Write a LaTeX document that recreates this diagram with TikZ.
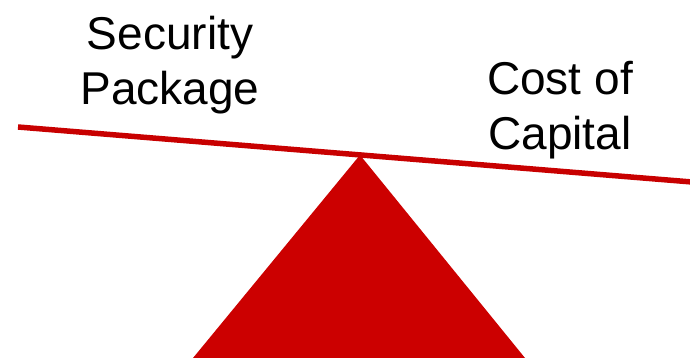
\documentclass[tikz,border=0pt]{standalone}
\usepackage{fontspec}
\setmainfont{Liberation Sans}
\usepackage{xcolor}
\definecolor{beamred}{RGB}{200,0,0}
\definecolor{baseRed}{RGB}{204,0,0}

\begin{document}
\begin{tikzpicture}[x=1pt,y=-1pt,
    label/.style={align=center,inner sep=0pt,anchor=base,font=\fontsize{46}{55}\selectfont}]
        \useasboundingbox (0,0) rectangle (690,358);
        \clip (0,0) rectangle (690,358);
        % fulcrum
        \coordinate (apex) at (360,155);
        \coordinate (bl) at (193,358);
        \coordinate (br) at (525,358);
        \fill[baseRed] (apex) -- (bl) -- (br) -- cycle;
        % beam
        \coordinate (beamL) at (18,127);
        \coordinate (beamR) at (692,182);
        \draw[beamred,line width=5.5pt] (beamL) -- (beamR);
        % labels (base = last line)
        \node[label] (sec) at (170,105) {Security\\Package};
        \node[label] (coc) at (560,150) {Cost of\\Capital};
    \end{tikzpicture}
\end{document}
